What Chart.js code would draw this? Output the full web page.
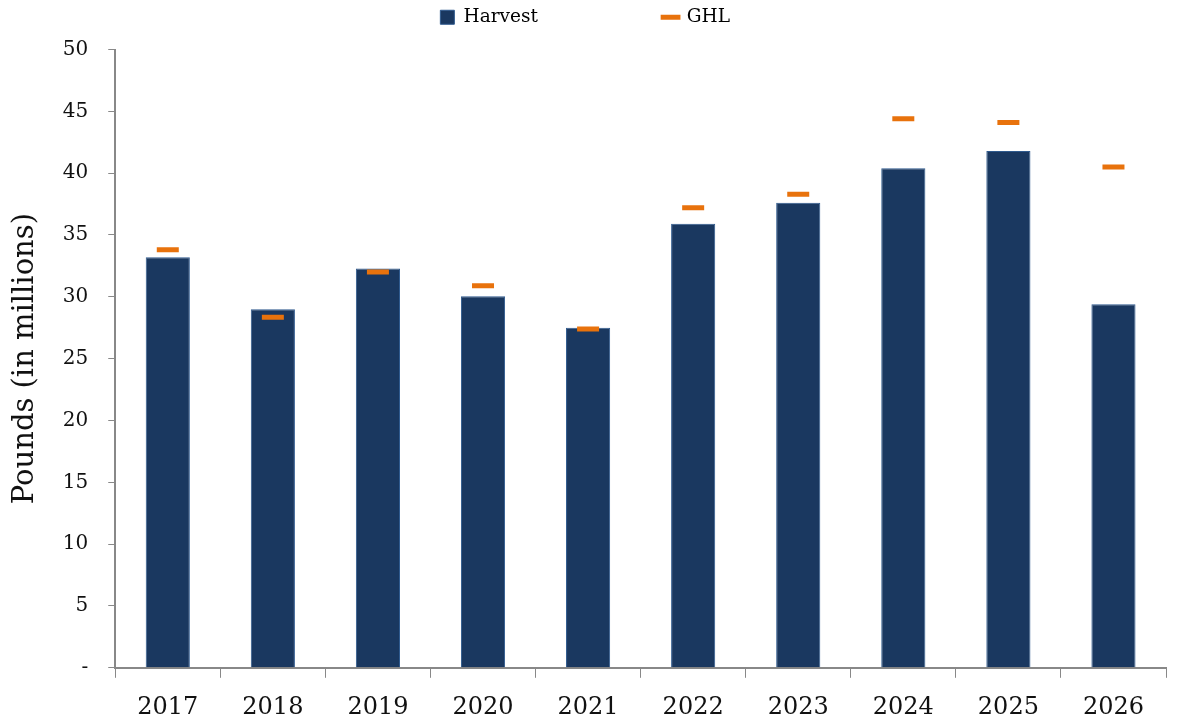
<!DOCTYPE html>
<html>
<head>
  <title>Harvest vs GHL</title>
  <script src="https://cdn.jsdelivr.net/npm/chart.js"></script>
  <style>
    body { margin: 0; background: #fff; }
    #wrap { width: 1182px; height: 723px; }
  </style>
</head>
<body>
  <div id="wrap"><canvas id="myChart"></canvas></div>
  <script>
    // data (millions of pounds)
    var years = ['2017', '2018', '2019', '2020', '2021', '2022', '2023', '2024', '2025', '2026'];
    var harvest = [33.2, 29.0, 32.3, 30.05, 27.5, 35.9, 37.6, 40.4, 41.8, 29.4];
    var ghl = [33.8, 28.35, 32.0, 30.9, 27.4, 37.2, 38.3, 44.4, 44.1, 40.5];

    var serif = "'DejaVu Serif', 'Liberation Serif', serif";
    var ctx = document.getElementById('myChart').getContext('2d');

    // extra space under the legend only
    var legendGap = {
      id: 'legendGap',
      beforeInit: function(chart) {
        var fit = chart.legend.fit;
        chart.legend.fit = function() {
          fit.bind(chart.legend)();
          this.height += 13;
        };
      }
    };

    var myChart = new Chart(ctx, {
      type: 'bar',
      data: {
        labels: years,
        datasets: [
          {
            type: 'line',
            label: 'GHL',
            data: ghl,
            showLine: false,
            pointStyle: 'line',
            pointRadius: 11,
            pointHoverRadius: 11,
            borderColor: '#E8720C',
            backgroundColor: '#E8720C',
            borderWidth: 5,
            order: 0
          },
          {
            label: 'Harvest',
            data: harvest,
            backgroundColor: '#1A3860',
            borderColor: '#2F5A8E',
            borderWidth: 1,
            barPercentage: 0.42,
            categoryPercentage: 1,
            order: 1
          }
        ]
      },
      plugins: [legendGap],
      options: {
        responsive: true,
        maintainAspectRatio: false,
        animation: false,
        layout: { padding: { left: 8, right: 2, top: 0, bottom: -14 } },
        plugins: {
          tooltip: { enabled: false },
          legend: {
            position: 'top',
            labels: {
              font: { family: serif, size: 18.5 },
              color: '#222',
              usePointStyle: true,
              boxWidth: 14,
              boxHeight: 14,
              padding: 8,
              generateLabels: function(chart) {
                // spaces after Harvest keep the wide gap of the original legend
                return [
                  { text: 'Harvest                    ', fillStyle: '#1A3860', strokeStyle: '#2F5A8E', lineWidth: 1, pointStyle: 'rect', datasetIndex: 1 },
                  { text: 'GHL   ', fillStyle: '#E8720C', strokeStyle: '#E8720C', lineWidth: 5, pointStyle: 'line', datasetIndex: 0 }
                ];
              }
            }
          }
        },
        scales: {
          x: {
            offset: true,
            grid: {
              offset: true,
              drawOnChartArea: false,
              drawTicks: true,
              tickLength: 10,
              color: '#888'
            },
            border: { color: '#888', width: 2 },
            ticks: {
              font: { family: serif, size: 24, lineHeight: 0.8 },
              color: '#111',
              padding: 20
            }
          },
          y: {
            min: 0,
            max: 50,
            title: {
              display: true,
              text: 'Pounds (in millions)',
              font: { family: serif, size: 29 },
              color: '#111',
              padding: { top: 0, bottom: 0 }
            },
            grid: {
              drawOnChartArea: false,
              drawTicks: true,
              tickLength: 7,
              color: '#888'
            },
            border: { color: '#888', width: 2 },
            ticks: {
              stepSize: 5,
              font: { family: serif, size: 20 },
              color: '#111',
              padding: 20,
              callback: function(v) { return v === 0 ? '-' : v; }
            }
          }
        }
      }
    });
  </script>
</body>
</html>
